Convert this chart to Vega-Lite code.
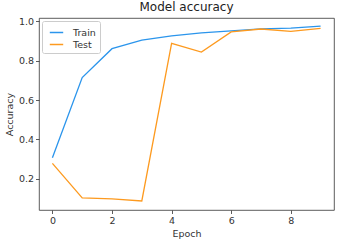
{
  "$schema": "https://vega.github.io/schema/vega-lite/v6.json",
  "autosize": "none",
  "width": 295,
  "height": 192,
  "padding": {"left": 39, "top": 18, "right": 7, "bottom": 30},
  "background": "white",
  "title": {"text": "Model accuracy", "fontSize": 12, "fontWeight": "normal", "font": "DejaVu Sans", "color": "#222", "offset": 2},
  "config": {
    "view": {"stroke": "#333", "strokeWidth": 0.8},
    "axis": {"grid": false, "domain": false, "tickColor": "#333", "tickSize": 3.5, "tickWidth": 0.8, "labelFont": "DejaVu Sans", "labelFontSize": 9.5, "labelColor": "#333", "titleFont": "DejaVu Sans", "titleFontSize": 9.5, "titleFontWeight": "normal", "titleColor": "#333"}
  },
  "data": {
    "values": [
      {"epoch": 0, "series": "Train", "acc": 0.307},
      {"epoch": 1, "series": "Train", "acc": 0.714},
      {"epoch": 2, "series": "Train", "acc": 0.861},
      {"epoch": 3, "series": "Train", "acc": 0.905},
      {"epoch": 4, "series": "Train", "acc": 0.926},
      {"epoch": 5, "series": "Train", "acc": 0.941},
      {"epoch": 6, "series": "Train", "acc": 0.952},
      {"epoch": 7, "series": "Train", "acc": 0.962},
      {"epoch": 8, "series": "Train", "acc": 0.966},
      {"epoch": 9, "series": "Train", "acc": 0.976},
      {"epoch": 0, "series": "Test", "acc": 0.278},
      {"epoch": 1, "series": "Test", "acc": 0.103},
      {"epoch": 2, "series": "Test", "acc": 0.098},
      {"epoch": 3, "series": "Test", "acc": 0.087},
      {"epoch": 4, "series": "Test", "acc": 0.888},
      {"epoch": 5, "series": "Test", "acc": 0.844},
      {"epoch": 6, "series": "Test", "acc": 0.946},
      {"epoch": 7, "series": "Test", "acc": 0.961},
      {"epoch": 8, "series": "Test", "acc": 0.949},
      {"epoch": 9, "series": "Test", "acc": 0.964}
    ]
  },
  "mark": {"type": "line", "strokeWidth": 1.3},
  "encoding": {
    "x": {"field": "epoch", "type": "quantitative", "title": "Epoch", "scale": {"domain": [-0.45, 9.45], "nice": false, "zero": false}, "axis": {"values": [0, 2, 4, 6, 8], "titlePadding": 3, "labelPadding": 2}},
    "y": {"field": "acc", "type": "quantitative", "title": "Accuracy", "scale": {"domain": [0.041, 1.017], "nice": false, "zero": false}, "axis": {"values": [0.2, 0.4, 0.6, 0.8, 1.0], "format": ".1f", "titlePadding": 4, "labelPadding": 2}},
    "color": {"field": "series", "type": "nominal", "sort": ["Train", "Test"], "scale": {"domain": ["Train", "Test"], "range": ["#2b95ec", "#fd9a1f"]},
      "legend": {"title": null, "orient": "none", "legendX": 3, "legendY": 3, "symbolType": "stroke", "symbolSize": 180, "symbolStrokeWidth": 1.5, "labelFont": "DejaVu Sans", "labelFontSize": 9.5, "labelColor": "#333", "labelOffset": 9, "fillColor": "white", "strokeColor": "#ccc", "cornerRadius": 2, "padding": 4, "rowPadding": 0, "symbolOffset": 3}}
  }
}
